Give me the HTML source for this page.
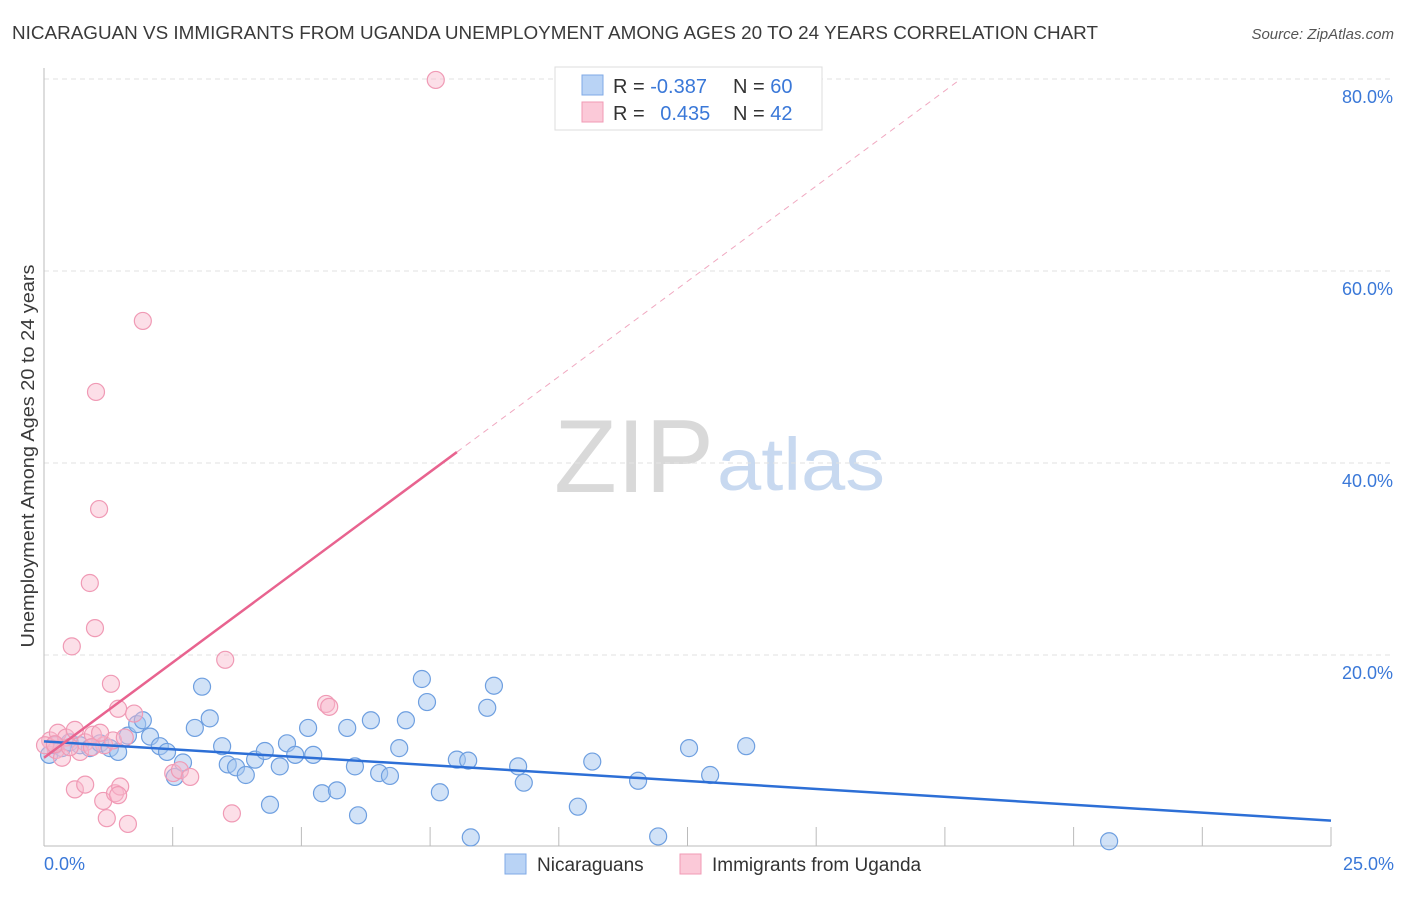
<!DOCTYPE html>
<html><head><meta charset="utf-8"><style>
body{margin:0;background:#fff;font-family:"Liberation Sans",sans-serif;}
svg text{font-family:"Liberation Sans",sans-serif;}
</style></head><body>
<svg id="chart" width="1406" height="892" xmlns="http://www.w3.org/2000/svg">
<text x="12" y="39" font-size="18.5" fill="#3a3a3a" textLength="1086" lengthAdjust="spacingAndGlyphs">NICARAGUAN VS IMMIGRANTS FROM UGANDA UNEMPLOYMENT AMONG AGES 20 TO 24 YEARS CORRELATION CHART</text>
<text x="1394" y="39" font-size="15" fill="#555" text-anchor="end" font-style="italic">Source: ZipAtlas.com</text>
<g>
<text x="634" y="492" font-size="104" fill="#d9d9d9" font-family="Liberation Serif" text-anchor="middle" textLength="160" lengthAdjust="spacingAndGlyphs">ZIP</text>
<text x="801" y="490" font-size="74" fill="#c8d9f0" text-anchor="middle" textLength="168" lengthAdjust="spacingAndGlyphs">atlas</text>
</g>
<g id="grid"></g>
<g id="axes"></g>
<g id="points"></g>
<g id="lines"></g>
<text transform="translate(34,456) rotate(-90)" font-size="18" fill="#3a3a3a" text-anchor="middle" textLength="383" lengthAdjust="spacingAndGlyphs">Unemployment Among Ages 20 to 24 years</text>
<g>
<rect x="555" y="67" width="267" height="63" fill="#fff" stroke="#ddd"/>
<rect x="582" y="75" width="21" height="20" fill="#b9d3f5" stroke="#7faae6"/>
<rect x="582" y="102" width="21" height="20" fill="#fbc9d8" stroke="#f09ab5"/>
<text x="613" y="93" font-size="20" fill="#333">R = <tspan fill="#3a78d8">-0.387</tspan></text>
<text x="733" y="93" font-size="20" fill="#333">N = <tspan fill="#3a78d8">60</tspan></text>
<text x="613" y="120" font-size="20" fill="#333">R = <tspan fill="#3a78d8" dx="10">0.435</tspan></text>
<text x="733" y="120" font-size="20" fill="#333">N = <tspan fill="#3a78d8">42</tspan></text>
</g>
<g>
<rect x="505" y="854" width="21" height="20" fill="#b9d3f5" stroke="#7faae6"/>
<text x="537" y="871" font-size="19" fill="#333">Nicaraguans</text>
<rect x="680" y="854" width="21" height="20" fill="#fbc9d8" stroke="#f09ab5"/>
<text x="712" y="871" font-size="19" fill="#333">Immigrants from Uganda</text>
</g>
</svg>
<script>
const xTickLabels=["0.0%","25.0%"];
const yTicks=[20,40,60,80];
const yTickLabels=["20.0%","40.0%","60.0%","80.0%"];
const nicX=[0.10,0.21,0.35,0.50,0.70,0.89,1.09,1.28,1.44,1.63,1.81,1.92,2.06,2.25,2.39,2.54,2.70,2.93,3.07,3.22,3.46,3.57,3.73,3.92,4.10,4.29,4.39,4.58,4.72,4.88,5.13,5.23,5.40,5.69,5.89,6.04,6.10,6.35,6.51,6.72,6.90,7.03,7.34,7.44,7.69,8.02,8.24,8.29,8.61,8.74,9.21,9.32,10.37,10.65,11.54,11.93,12.53,12.94,13.64,20.69];
const nicY=[9.6,10.6,10.3,10.9,10.6,10.3,10.8,10.3,9.9,11.6,12.8,13.2,11.5,10.5,9.9,7.3,8.8,12.4,16.7,13.4,10.5,8.6,8.3,7.5,9.1,10.0,4.4,8.4,10.8,9.6,12.4,9.6,5.6,5.9,12.4,8.4,3.3,13.2,7.7,7.4,10.3,13.2,17.5,15.1,5.7,9.1,9.0,1.0,14.5,16.8,8.4,6.7,4.2,8.9,6.9,1.1,10.3,7.5,10.5,0.6];
const ugX=[7.61,1.92,1.01,1.07,0.89,0.99,0.54,3.52,1.30,1.44,1.75,5.48,5.54,0.12,0.27,0.43,0.60,0.80,0.95,1.17,1.34,0.23,0.70,0.35,1.57,2.51,2.64,2.84,0.60,0.80,1.15,1.38,1.48,1.44,1.22,1.63,3.65,0.02,0.21,0.93,1.09,0.50];
const ugY=[79.9,54.8,47.4,35.2,27.5,22.8,20.9,19.5,17.0,14.4,13.9,14.9,14.6,11.1,11.9,11.4,12.2,10.9,11.7,10.6,11.1,10.1,9.9,9.3,11.4,7.7,8.0,7.3,6.0,6.5,4.8,5.6,6.3,5.4,3.0,2.4,3.5,10.6,10.7,10.4,11.9,10.4];
const nicTrend=[11.0,-0.33];
const ugTrend=[9.3,3.97];
const X0=44,X1=1331,Y0=847,Y80=79;
const sx=v=>X0+(X1-X0)*v/25;
const sy=v=>Y0-(Y0-Y80)*v/80;
const NS="http://www.w3.org/2000/svg";
function mk(tag,attrs,parent){const e=document.createElementNS(NS,tag);for(const k in attrs)e.setAttribute(k,attrs[k]);document.getElementById(parent).appendChild(e);return e;}
yTicks.forEach((t,i)=>{
 const g=mk('line',{x1:44,x2:1394,y1:sy(t),y2:sy(t),stroke:'#e2e2e2','stroke-dasharray':'5,4'},'grid');
 
 
 const l=mk('text',{x:1393,y:sy(t)+24,'font-size':18,fill:'#3a78d8','text-anchor':'end'},'axes');
 l.textContent=yTickLabels[i];
 
 
});
const ax=mk('line',{x1:44,x2:44,y1:68,y2:846,stroke:'#bbb'},'axes');


const bx=mk('line',{x1:44,x2:1331,y1:846,y2:846,stroke:'#bbb'},'axes');


for(let i=1;i<=10;i++){const t=mk('line',{x1:sx(i*2.5),x2:sx(i*2.5),y1:827,y2:846,stroke:'#bbb'},'axes');
 
 }
[[0,'start',44],[1,'end',1394]].forEach(([i,a,x])=>{const t=mk('text',{x:x,y:870,'font-size':18,fill:'#3a78d8','text-anchor':a},'axes');t.textContent=xTickLabels[i];
 
 });
nicX.forEach((v,i)=>{const c=mk('circle',{cx:sx(v),cy:sy(nicY[i]),r:8.5,fill:'rgba(164,198,240,0.5)',stroke:'#6e9fe0','stroke-width':1.2},'points');
 
 });
ugX.forEach((v,i)=>{const c=mk('circle',{cx:sx(v),cy:sy(ugY[i]),r:8.5,fill:'rgba(248,184,204,0.45)',stroke:'#f09ab5','stroke-width':1.2},'points');
 
 });
const nl=mk('line',{x1:sx(0),y1:sy(nicTrend[0]),x2:sx(25),y2:sy(nicTrend[0]+nicTrend[1]*25),stroke:'#2d6fd6','stroke-width':2.5},'lines');


const ul=mk('line',{x1:sx(0),y1:sy(ugTrend[0]),x2:sx(8.02),y2:sy(ugTrend[0]+ugTrend[1]*8.02),stroke:'#e8638f','stroke-width':2.5},'lines');


const xe=(80-ugTrend[0])/ugTrend[1];
const ud=mk('line',{x1:sx(8.02),y1:sy(ugTrend[0]+ugTrend[1]*8.02),x2:sx(xe),y2:sy(80),stroke:'#f0a8c0','stroke-width':1,'stroke-dasharray':'6,5'},'lines');


</script>
</body></html>
